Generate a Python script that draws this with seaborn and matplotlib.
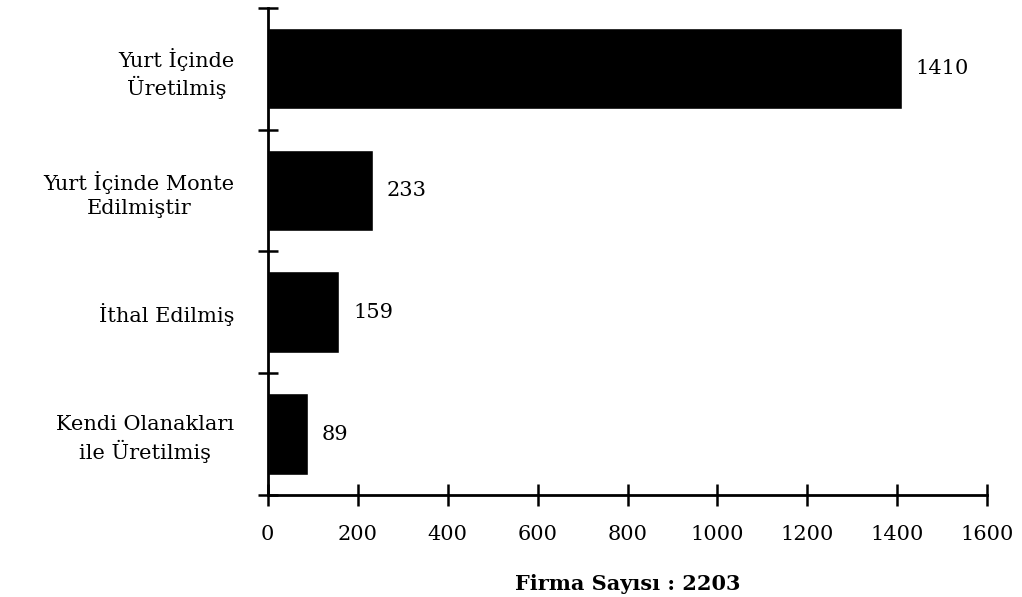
import seaborn as sns
import matplotlib.pyplot as plt
import pandas as pd
import numpy as np

# Data
categories = ['Yurt İçinde\nÜretilmiş', 'Yurt İçinde Monte\nEdilmiştir',
              'İthal Edilmiş', 'Kendi Olanakları\nile Üretilmiş']
firms = [1410, 233, 159, 89]
x_ticks = [0, 200, 400, 600, 800, 1000, 1200, 1400, 1600]
x_label = 'Firma Sayısı : 2203'

df = pd.DataFrame({'category': categories, 'firms': firms})

sns.set_style('white')
plt.rcParams['font.family'] = ['DejaVu Serif', 'Liberation Serif']
plt.rcParams['text.color'] = 'black'
plt.rcParams['xtick.color'] = 'black'
plt.rcParams['ytick.color'] = 'black'
plt.rcParams['axes.labelcolor'] = 'black'

fig = plt.figure(figsize=(10.22, 5.97), dpi=100)
ax = fig.add_axes([0.262, 0.171, 0.704, 0.816])

sns.barplot(data=df, x='firms', y='category', orient='h', color='black',
            width=0.67, ax=ax, saturation=1)

# value labels at the bar ends
ax.bar_label(ax.containers[0], padding=10, fontsize=15, color='black')

ax.set_xlim(0, 1600)
ax.set_ylim(3.5, -0.5)
ax.set_xticks(x_ticks)
ax.set_xticklabels([str(t) for t in x_ticks], fontsize=15)

# major y ticks sit between categories, labels on minor ticks at the centres
n = len(categories)
ax.set_yticks(np.arange(n + 1) - 0.5)
ax.set_yticklabels([])
ax.set_yticks(np.arange(n), categories, minor=True)
for lab in ax.get_yticklabels(minor=True):
    lab.set_fontsize(15)
    lab.set_multialignment('center')
    lab.set_linespacing(1.3)
ax.tick_params(axis='y', which='minor', left=True, length=0, pad=24)
ax.tick_params(axis='y', which='major', left=True, direction='inout',
               length=14, width=1.8)
ax.tick_params(axis='x', bottom=True, direction='inout', length=16,
               width=1.8, pad=14)

ax.set_ylabel('')
ax.set_xlabel(x_label, fontsize=15, fontweight='bold', labelpad=21)

sns.despine(ax=ax)
for side in ['left', 'bottom']:
    ax.spines[side].set_linewidth(2)
    ax.spines[side].set_color('black')

plt.savefig('out.png', dpi=100)
